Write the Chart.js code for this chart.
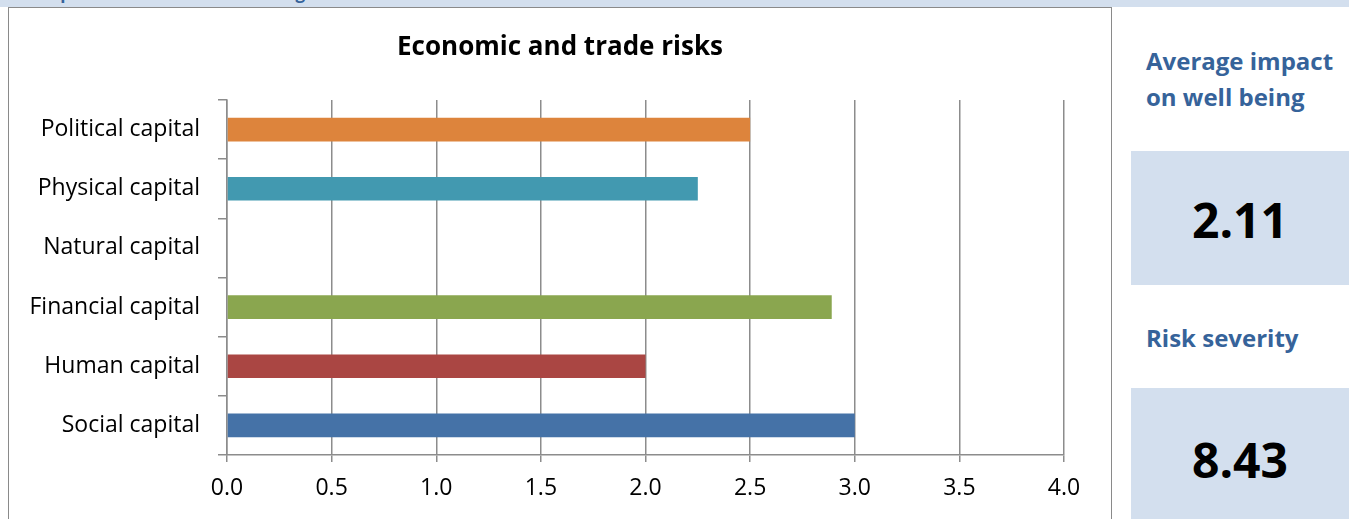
<!DOCTYPE html>
<html><head><meta charset="utf-8">
<script src="https://cdn.jsdelivr.net/npm/chart.js@4"></script>
<style>
html,body{margin:0;padding:0;background:#fff;width:1349px;height:519px;overflow:hidden;font-family:"Open Sans",sans-serif;}
#strip{position:absolute;left:0;top:0;width:1349px;height:7px;background:#D3DFEE;overflow:hidden;}
#strip span{position:absolute;left:38px;top:-19px;font-weight:bold;font-size:17px;line-height:24px;color:#36639A;white-space:nowrap;}
#frame{position:absolute;left:8px;top:7px;width:1102px;height:520px;border:1.5px solid #8a8a8a;}
#wrap{position:absolute;left:9px;top:8px;width:1102px;height:511px;}
.lbl{position:absolute;left:1146px;font-weight:bold;font-size:24px;line-height:36px;color:#36639A;}
.box{position:absolute;left:1131px;width:218px;background:#D3DFEE;text-align:center;font-weight:bold;font-size:48px;color:#000;}
</style></head>
<body>
<div id="strip"><span>Impact of the risk on well being</span></div>
<div id="frame"></div>
<div id="wrap"><canvas id="c" width="1102" height="511"></canvas></div>
<div class="lbl" style="top:43px;">Average impact<br>on well being</div>
<div class="box" style="top:151px;height:134px;line-height:138px;">2.11</div>
<div class="lbl" style="top:320px;">Risk severity</div>
<div class="box" style="top:388px;height:131px;line-height:144px;">8.43</div>
<script>
const categories = ['Political capital','Physical capital','Natural capital','Financial capital','Human capital','Social capital'];
const values = [2.5, 2.25, 0, 2.89, 2.0, 3.0];
const barColors = ['#DD843C','#4299B0','#7F7F7F','#8AA64F','#AA4643','#4572A7'];
const xTicks = [0,0.5,1,1.5,2,2.5,3,3.5,4];
const chartTitle = 'Economic and trade risks';

const FONT = '"Open Sans", sans-serif';
const centeredTitle = {
  id: 'centeredTitle',
  afterDraw(chart) {
    const ctx = chart.ctx;
    ctx.save();
    ctx.font = 'bold 26px ' + FONT;
    ctx.fillStyle = '#000';
    ctx.textAlign = 'center';
    ctx.textBaseline = 'middle';
    ctx.fillText(chartTitle, chart.width / 2, 40);
    ctx.restore();
  }
};
new Chart(document.getElementById('c'), {
  type: 'bar',
  data: { labels: categories, datasets: [{ data: values, backgroundColor: barColors, borderWidth: 0, barPercentage: 0.4, categoryPercentage: 1.0 }] },
  options: {
    indexAxis: 'y', responsive: false, animation: false,
    layout: { padding: { left: 0, right: 47, top: 92, bottom: 0 } },
    plugins: { legend: { display: false }, tooltip: { enabled: false }, title: { display: false } },
    scales: {
      x: {
        min: 0, max: 4,
        afterBuildTicks: (s) => { s.ticks = xTicks.map(v => ({ value: v })); },
        afterFit: (s) => { s.height = 64; },
        grid: { color: '#8c8c8c', lineWidth: 1.5, tickLength: 7, drawTicks: true },
        border: { color: '#8c8c8c', width: 1.5 },
        ticks: { color: '#000', font: { family: FONT, size: 23 }, padding: 13, callback: (v) => Number(v).toFixed(1), maxRotation: 0, autoSkip: false }
      },
      y: {
        afterFit: (s) => { s.width = 218; },
        grid: { drawOnChartArea: false, color: '#8c8c8c', lineWidth: 1.5, tickLength: 9, offset: true },
        border: { color: '#8c8c8c', width: 1.5 },
        ticks: { color: '#000', font: { family: FONT, size: 23 }, padding: 18 }
      }
    }
  },
  plugins: [centeredTitle]
});
</script>
</body></html>
